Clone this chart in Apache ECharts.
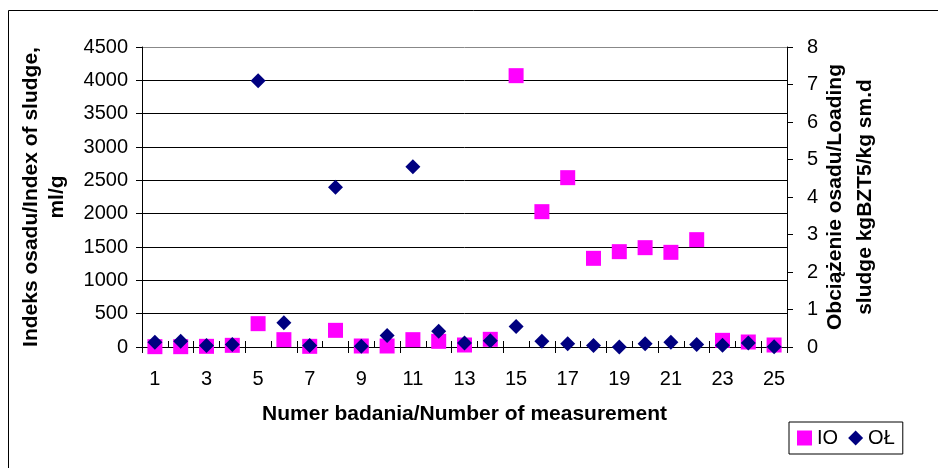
<!DOCTYPE html>
<html><head><meta charset="utf-8">
<script src="https://cdn.jsdelivr.net/npm/echarts@6/dist/echarts.min.js"></script>
<style>html,body{margin:0;padding:0;background:#fff}#c{width:938px;height:468px}</style>
</head><body><div id="c"></div>
<script>
const categories = ['1','2','3','4','5','6','7','8','9','10','11','12','13','14','15','16','17','18','19','20','21','22','23','24','25'];
const ioValues = [5, 5, 10, 25, 350, 110, 10, 250, 15, 15, 110, 85, 30, 115, 4070, 2030, 2540, 1330, 1430, 1490, 1420, 1610, 100, 75, 30];
const olValues = [0.13, 0.155, 0.04, 0.07, 7.1, 0.65, 0.04, 4.26, 0.02, 0.31, 4.81, 0.42, 0.11, 0.17, 0.55, 0.155, 0.085, 0.04, 0.0, 0.085, 0.13, 0.07, 0.05, 0.11, 0.01];
const leftTicks = {min: 0, max: 4500, interval: 500};
const rightTicks = {min: 0, max: 8, interval: 1};

const FONT = 'Liberation Sans, Arial, sans-serif';
const chart = echarts.init(document.getElementById('c'), null, {renderer: 'canvas'});
const splitColors = [];
for (let v = leftTicks.min; v <= leftTicks.max; v += leftTicks.interval) splitColors.push(v === leftTicks.max ? '#888' : '#000');
const plain = v => String(v);

chart.setOption({
  animation: false,
  backgroundColor: '#fff',
  textStyle: {fontFamily: FONT},
  graphic: [{
    type: 'rect', shape: {x: 8.5, y: 10.5, width: 960, height: 480},
    style: {fill: 'none', stroke: '#000', lineWidth: 1}, silent: true, z: -1
  }],
  grid: {left: 142, top: 47, width: 645, height: 300, containLabel: false},
  legend: {
    left: 789, top: 422, orient: 'horizontal',
    padding: [6, 8, 6, 8], itemGap: 10, itemWidth: 15, itemHeight: 15,
    borderColor: '#000', borderWidth: 1,
    textStyle: {fontFamily: FONT, fontSize: 20, color: '#000'},
    data: [{name: 'IO', icon: 'rect'}, {name: 'OŁ', icon: 'diamond'}]
  },
  xAxis: [{
    type: 'category', data: categories, boundaryGap: true,
    name: 'Numer badania/Number of measurement', nameLocation: 'middle', nameGap: 57,
    nameTextStyle: {fontFamily: FONT, fontSize: 21, fontWeight: 'bold', color: '#000'},
    axisLine: {show: true, lineStyle: {color: '#000', width: 1}},
    axisTick: {show: true, alignWithLabel: false, length: 6, lineStyle: {color: '#000'}},
    axisLabel: {interval: 1, margin: 22, fontFamily: FONT, fontSize: 20, color: '#000'},
    splitLine: {show: false}
  }, {
    type: 'category', data: categories, boundaryGap: true, position: 'bottom',
    axisLine: {show: false}, axisLabel: {show: false},
    axisTick: {show: true, inside: true, length: 6, lineStyle: {color: '#000'}},
    splitLine: {show: false}
  }],
  yAxis: [{
    type: 'value', position: 'left', min: leftTicks.min, max: leftTicks.max, interval: leftTicks.interval,
    name: 'Indeks osadu/Index of sludge,\nml/g', nameLocation: 'middle', nameGap: 72, nameRotate: 90,
    nameTextStyle: {fontFamily: FONT, fontSize: 21, fontWeight: 'bold', color: '#000', lineHeight: 26, align: 'center'},
    axisLine: {show: true, lineStyle: {color: '#000', width: 1}},
    axisTick: {show: true, length: 6, lineStyle: {color: '#000'}},
    axisLabel: {margin: 14, fontFamily: FONT, fontSize: 20, color: '#000', formatter: plain},
    splitLine: {show: true, lineStyle: {color: splitColors, width: 1}}
  }, {
    type: 'value', position: 'right', min: rightTicks.min, max: rightTicks.max, interval: rightTicks.interval,
    name: 'Obciążenie osadu/Loading\nsludge kgBZT5/kg sm.d', nameLocation: 'middle', nameGap: 33, nameRotate: 90,
    nameMoveOverlap: false,
    nameTextStyle: {fontFamily: FONT, fontSize: 21, fontWeight: 'bold', color: '#000', lineHeight: 30, align: 'center'},
    axisLine: {show: true, lineStyle: {color: '#000', width: 1}},
    axisTick: {show: true, length: 6, lineStyle: {color: '#000'}},
    axisLabel: {margin: 20, fontFamily: FONT, fontSize: 20, color: '#000', formatter: plain},
    splitLine: {show: false}
  }],
  series: [{
    name: 'IO', type: 'scatter', xAxisIndex: 0, yAxisIndex: 0, data: ioValues,
    symbol: 'rect', symbolSize: 15, itemStyle: {color: '#FF00FF', opacity: 1}, z: 2
  }, {
    name: 'OŁ', type: 'scatter', xAxisIndex: 0, yAxisIndex: 1, data: olValues,
    symbol: 'diamond', symbolSize: 15, itemStyle: {color: '#000080', opacity: 1}, z: 3
  }]
});
</script></body></html>
